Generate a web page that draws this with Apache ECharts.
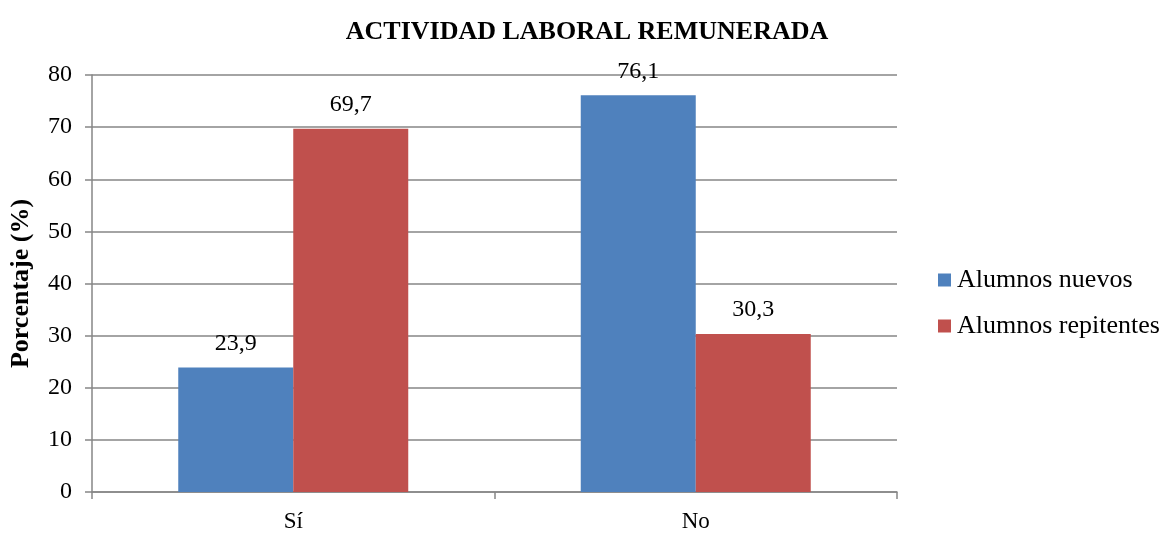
<!DOCTYPE html>
<html>
<head>
<meta charset="utf-8">
<script src="https://cdn.jsdelivr.net/npm/echarts@6/dist/echarts.min.js"></script>
<style>
    html, body { margin: 0; padding: 0; background: #fff; }
    #chart { width: 1167px; height: 533px; }
</style>
</head>
<body>
<div id="chart"></div>
<script>
var categories = ['Sí', 'No'];
var nuevos = [23.9, 76.1];
var repitentes = [69.7, 30.3];
var seriesNames = ['Alumnos nuevos', 'Alumnos repitentes'];

var font = "'Liberation Serif', 'Times New Roman', serif";
var chart = echarts.init(document.getElementById('chart'));

// etiquetas con coma decimal
function fmt(p) {
    return String(p.value).replace('.', ',');
}

chart.setOption({
    backgroundColor: '#fff',
    animation: false,
    textStyle: { fontFamily: font, color: '#000' },
    title: {
        text: 'ACTIVIDAD LABORAL REMUNERADA',
        left: 582,
        top: 14,
        textAlign: 'center',
        textStyle: { fontFamily: font, fontSize: 26, fontWeight: 'bold', color: '#000' }
    },
    legend: {
        orient: 'vertical',
        left: 933,
        top: 262,
        padding: [5, 0, 5, 5],
        itemWidth: 13,
        itemHeight: 13,
        itemGap: 20,
        icon: 'rect',
        textStyle: { fontFamily: font, fontSize: 26, color: '#000', padding: [0, 0, 0, 1] },
        data: seriesNames
    },
    grid: { left: 89, right: 270, top: 75, bottom: 40 },
    xAxis: {
        type: 'category',
        data: categories,
        axisLine: { lineStyle: { color: '#868686', width: 1.5 } },
        axisTick: { show: true, length: 7, lineStyle: { color: '#868686', width: 1.5 } },
        axisLabel: { fontFamily: font, fontSize: 23, color: '#000', margin: 18 }
    },
    yAxis: {
        type: 'value',
        min: 0,
        max: 80,
        interval: 10,
        name: 'Porcentaje (%)',
        nameLocation: 'middle',
        nameGap: 58,
        nameTextStyle: { fontFamily: font, fontSize: 26, fontWeight: 'bold', color: '#000' },
        axisLine: { show: true, lineStyle: { color: '#868686', width: 1.5 } },
        axisTick: { show: true, length: 7, lineStyle: { color: '#868686', width: 1.5 } },
        axisLabel: { fontFamily: font, fontSize: 24, color: '#000', margin: 20 },
        splitLine: { lineStyle: { color: '#868686', width: 1.5 } }
    },
    series: [
        {
            name: seriesNames[0],
            type: 'bar',
            data: nuevos,
            barWidth: 115,
            barGap: '0%',
            itemStyle: { color: '#4f81bd' },
            label: {
                show: true, position: 'top', distance: 12,
                fontFamily: font, fontSize: 24, color: '#000',
                formatter: fmt
            }
        },
        {
            name: seriesNames[1],
            type: 'bar',
            data: repitentes,
            barWidth: 115,
            barGap: '0%',
            itemStyle: { color: '#c0504d' },
            label: {
                show: true, position: 'top', distance: 12,
                fontFamily: font, fontSize: 24, color: '#000',
                formatter: fmt
            }
        }
    ]
});
</script>
</body>
</html>
